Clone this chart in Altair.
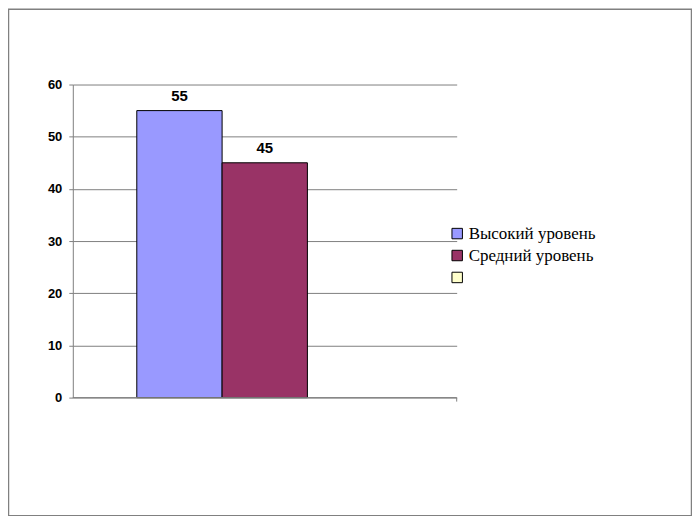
import altair as alt
import pandas as pd

series = ["Высокий уровень", "Средний уровень", ""]
values = [55, 45, None]
colors = ["#9999FF", "#993366", "#FFFFCC"]
y_ticks = [0, 10, 20, 30, 40, 50, 60]

df = pd.DataFrame({"cat": ["A"] * 3, "series": series, "value": values})
bars_df = df.dropna()

W, H = 385, 314

x_enc = alt.X("cat:N", axis=None,
              scale=alt.Scale(paddingOuter=0.25, paddingInner=0))
xo_enc = alt.XOffset("series:N", scale=alt.Scale(domain=series, paddingInner=0, paddingOuter=0))
y_enc = alt.Y("value:Q", scale=alt.Scale(domain=[0, 60], nice=False),
              axis=alt.Axis(values=y_ticks, title=None, grid=True, gridColor="#808080",
                            gridOpacity=1, domainColor="#808080", tickColor="#808080",
                            tickSize=4, labelFont="Liberation Sans", labelFontWeight="bold",
                            labelFontSize=13, labelColor="black", labelPadding=7))

bars = alt.Chart(df).mark_bar(stroke="black", strokeWidth=1).encode(
    x=x_enc, xOffset=xo_enc, y=y_enc,
    fill=alt.Fill("series:N", scale=alt.Scale(domain=series, range=colors),
                  legend=alt.Legend(title=None, orient="none", legendX=377, legendY=141,
                                    symbolType="square", symbolSize=110,
                                    symbolStrokeColor="black", symbolStrokeWidth=1,
                                    labelFont="Liberation Serif", labelFontSize=17,
                                    labelColor="black", rowPadding=4, labelOffset=3)),
)

labels = alt.Chart(bars_df).mark_text(dy=-7, baseline="bottom", font="Liberation Sans",
                                      fontWeight="bold", fontSize=15, color="black").encode(
    x=x_enc, xOffset=xo_enc, y=alt.Y("value:Q"), text=alt.Text("value:Q", format="d"),
)

border_df = pd.DataFrame({"a": [0]})
baseline = alt.Chart(border_df).mark_rule(color="#808080", strokeWidth=1).encode(
    x=alt.value(0), x2=alt.value(W), y=alt.value(H)
)
xtick = alt.Chart(border_df).mark_rule(color="#808080", strokeWidth=1).encode(
    x=alt.value(W), y=alt.value(H), y2=alt.value(H + 4)
)
border = alt.Chart(border_df).mark_rect(fill=None, stroke="#808080", strokeWidth=1.5).encode(
    x=alt.value(-64.5), x2=alt.value(620.5), y=alt.value(-75.5), y2=alt.value(432.5)
)

chart = alt.layer(border, bars, labels, baseline, xtick).properties(
    width=W, height=H,
    background="white",
    autosize=alt.AutoSizeParams(type="none"),
    padding={"left": 65, "top": 76, "right": 236, "bottom": 118},
).configure_view(stroke=None)

chart.save("out.html", embed_options={"renderer": "svg", "actions": False})
